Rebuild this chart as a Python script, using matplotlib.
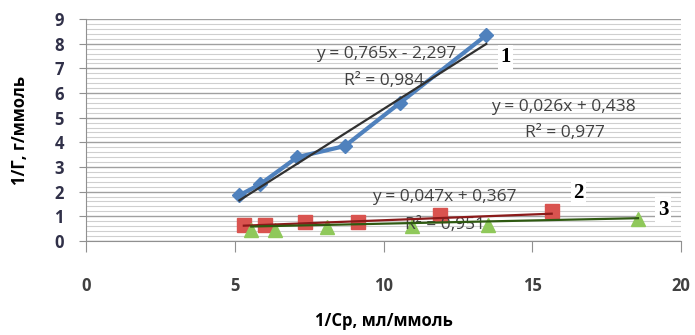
import matplotlib
matplotlib.use('Agg')
import matplotlib.pyplot as plt
from matplotlib.ticker import MultipleLocator

# series 1 (blue diamonds)
x1 = [5.15, 5.85, 7.1, 8.7, 10.55, 13.45]
y1 = [1.85, 2.3, 3.4, 3.85, 5.6, 8.35]
# series 2 (red squares)
x2 = [5.3, 6.0, 7.35, 9.15, 11.9, 15.65]
y2 = [0.65, 0.65, 0.75, 0.75, 1.05, 1.2]
# series 3 (green triangles)
x3 = [5.55, 6.35, 8.1, 10.95, 13.5, 18.55]
y3 = [0.45, 0.45, 0.55, 0.6, 0.65, 0.9]

# trendlines: slope, intercept
fit1 = (0.765, -2.297)
fit2 = (0.047, 0.367)
fit3 = (0.026, 0.438)

plt.rcParams['font.family'] = ['Open Sans', 'DejaVu Sans']

fig = plt.figure(figsize=(6.95, 3.35), dpi=100)
ax = fig.add_axes([0.124, 0.281, 0.856, 0.662])

ax.plot(x1, y1, color='#4f81bd', marker='D', markersize=7, lw=3, zorder=3)
ax.plot(x2, y2, color='#d9534f', marker='s', markersize=10, lw=0, zorder=3)
ax.plot(x3, y3, color='#8fc85a', marker='^', markersize=10, lw=0, zorder=3)

for xs, (k, b), c in [(x1, fit1, '#303030'), (x2, fit2, '#8b1a1a'), (x3, fit3, '#2f5a12')]:
    xa = [min(xs), max(xs)]
    ax.plot(xa, [k * v + b for v in xa], color=c, lw=1.6, zorder=4)

ax.set_xlim(0, 20)
ax.set_ylim(0, 9)
ax.xaxis.set_major_locator(MultipleLocator(5))
ax.yaxis.set_major_locator(MultipleLocator(1))
ax.yaxis.set_minor_locator(MultipleLocator(0.2))
ax.grid(axis='y', which='major', color='#a0a0a0', lw=1.0)
ax.grid(axis='y', which='minor', color='#cfcfcf', lw=0.8)
ax.set_axisbelow(True)
for s in ['top', 'right']:
    ax.spines[s].set_visible(False)
for s in ['left', 'bottom']:
    ax.spines[s].set_color('#909090')
ax.tick_params(axis='x', length=8, color='#909090', pad=18, labelsize=12, labelcolor='#404040')
ax.tick_params(axis='y', length=5, color='#909090', pad=11, labelsize=12, labelcolor='#303048')
ax.tick_params(which='minor', length=0)
for lab in ax.get_xticklabels() + ax.get_yticklabels():
    lab.set_fontweight('bold')

ax.set_xlabel('1/Ср, мл/ммоль', fontsize=12, fontweight='bold', labelpad=12)
ax.set_ylabel('1/Г, г/ммоль', fontsize=12, fontweight='bold', labelpad=18)

tc = '#404040'
fs = 12.5
ax.text(10.1, 7.6, 'y = 0,765x - 2,297', fontsize=fs, color=tc, ha='center', va='center')
ax.text(10.0, 6.5, 'R² = 0,984', fontsize=fs, color=tc, ha='center', va='center')
ax.text(16.05, 5.43, 'y = 0,026x + 0,438', fontsize=fs, color=tc, ha='center', va='center')
ax.text(16.1, 4.37, 'R² = 0,977', fontsize=fs, color=tc, ha='center', va='center')
ax.text(12.05, 1.78, 'y = 0,047x + 0,367', fontsize=fs, color=tc, ha='center', va='center')
ax.text(12.07, 0.65, 'R² = 0,951', fontsize=fs, color=tc, ha='center', va='center')

box = dict(facecolor='white', edgecolor='none', pad=2)
for t, xx, yy in [('1', 14.1, 7.45), ('2', 16.55, 1.95), ('3', 19.4, 1.25)]:
    ax.text(xx, yy, t, fontsize=15, fontweight='bold', family='Liberation Serif',
            ha='center', va='center', bbox=box, zorder=5)

fig.savefig('out.png', dpi=100)
